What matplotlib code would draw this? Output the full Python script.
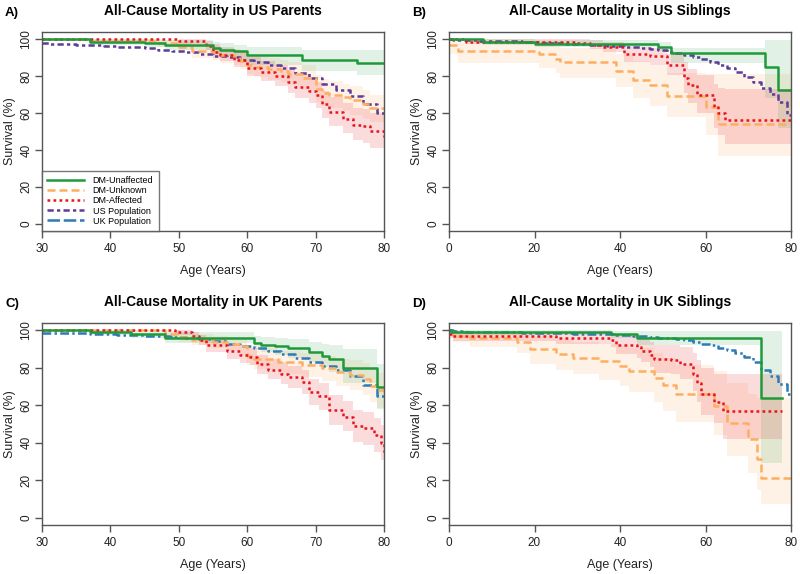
import matplotlib
matplotlib.use("Agg")
import matplotlib.pyplot as plt
from matplotlib.lines import Line2D

plt.rcParams['font.family'] = ['Liberation Sans', 'DejaVu Sans']

# ---------------- Panel A: US Parents ----------------
A_unaff_t = [30, 37, 45, 48, 55, 56, 58, 60, 68, 76, 80]
A_unaff_s = [100, 98.8, 98.3, 97.2, 95.5, 94.5, 93.5, 91.5, 89, 87.2, 87.2]
A_unaff_lo = [100, 97, 96, 94.5, 92, 91, 89.5, 86, 83, 80.5, 80.5]
A_unaff_hi = [100, 100, 100, 99.5, 98.5, 98, 97, 96, 94.5, 94, 94]

A_unk_t = [30, 37, 47, 50, 52, 55, 56, 58, 59, 60, 61, 63, 65, 66, 68, 70, 71, 72, 74, 75, 77, 78, 80]
A_unk_s = [100, 99, 98, 96, 93.5, 93, 91.5, 90.5, 88.5, 86, 85, 84, 83, 81, 79, 73, 71, 70, 68.5, 67, 65, 63, 62]
A_unk_lo = [99, 97.5, 96, 94, 90, 89, 87, 86, 84, 81, 79.5, 78, 77, 75, 72.5, 66, 64, 62.5, 61, 59, 57, 55, 55]
A_unk_hi = [100, 100, 99.5, 98.5, 97, 96.5, 95.5, 95, 93.5, 91.5, 90.5, 90, 89, 87.5, 86, 80.5, 78.5, 77.5, 76, 74.5, 72.5, 70, 69]

A_aff_t = [30, 50, 54, 55, 56, 58, 60, 62, 64, 66, 67, 69, 70, 71, 72, 74, 75.5, 77, 78, 80]
A_aff_s = [100, 99, 96.5, 93, 91.5, 89, 84.5, 82.5, 80, 77, 74, 72, 70, 64.7, 60.4, 57, 53.5, 53, 50.5, 47]
A_aff_lo = [100, 97.5, 94, 90, 88, 85, 80, 77.5, 74.5, 71, 68, 65.5, 63, 57.5, 53, 49, 45.5, 44, 41, 38]
A_aff_hi = [100, 100, 99, 97.5, 96, 94, 90.5, 88.5, 86, 83.5, 81, 79, 77, 72, 68.5, 65.5, 62.5, 62, 60, 57]

A_pop_t = [30, 32, 34, 36, 38, 40, 42, 44, 46, 48, 50, 52, 54, 56, 58, 60, 62, 64, 66, 68, 70, 72, 74, 76, 78, 80]
A_pop_s = [98.0, 97.7, 97.4, 97.1, 96.8, 96.4, 96.0, 95.6, 95.1, 94.5, 93.8, 93.0, 92.2, 91.2, 90.3, 89.0,
           87.6, 86.0, 84.2, 82.0, 79.3, 76.0, 72.5, 69.0, 65.0, 60.0]

# ---------------- Panel B: US Siblings ----------------
B_unaff_t = [0, 8, 20, 49, 52, 74, 77, 80]
B_unaff_s = [100, 98.7, 97.7, 96, 92.5, 85, 72.5, 72.5]
B_unaff_lo = [100, 97, 96, 93.5, 87, 68, 52, 52]
B_unaff_hi = [100, 100, 99.5, 98.5, 95.5, 99.5, 99.5, 99.5]

B_unk_t = [0, 2, 21, 25, 26, 39, 43, 47, 51, 60, 63, 80]
B_unk_s = [97, 93.5, 92, 89.5, 87.5, 83, 78, 75, 69.5, 63.5, 54, 54]
B_unk_lo = [92, 87, 84.5, 81.5, 79, 74, 68, 64, 58, 48, 36.5, 36.5]
B_unk_hi = [100, 98.5, 97.5, 96.5, 95.5, 92, 88, 86, 81.5, 81, 81, 81]

B_aff_t = [0, 4, 30, 33, 36, 41, 47, 51, 55, 56, 58, 62, 63, 64.5, 80]
B_aff_s = [100, 98.7, 98.3, 97, 95.8, 92, 91, 86, 79.3, 75, 69.7, 63.5, 60, 56, 56]
B_aff_lo = [100, 97.5, 96.5, 95, 93, 87.5, 86, 80.5, 71, 65.5, 60, 52, 48, 43, 43]
B_aff_hi = [100, 100, 100, 99.5, 98.5, 96, 95.5, 92, 87.5, 84, 80.5, 76, 73.5, 73, 73]

B_pop_t = [0, 2, 4, 6, 8, 10, 12, 14, 16, 18, 20, 22, 24, 26, 28, 30, 32, 34, 36, 38, 40,
           42, 44, 46, 48, 50, 52, 54, 56, 58, 60, 62, 64, 66, 68, 70, 72, 74, 76, 78, 80]
B_pop_s = [100, 99.7, 99.5, 99.4, 99.3, 99.2, 99.1, 99.0, 98.9, 98.7, 98.5, 98.3, 98.1, 97.9, 97.7,
           97.5, 97.3, 97.1, 96.9, 96.6, 96.3, 96.0, 95.6, 95.1, 94.6, 94.0, 93.3, 92.5, 91.5, 90.4,
           89.2, 87.8, 86.1, 84.3, 82.2, 79.8, 77.0, 73.8, 70.3, 66.0, 59.0]

# ---------------- Panel C: UK Parents ----------------
C_unaff_t = [30, 37, 43, 48, 61, 62, 64, 66, 69, 71, 72, 74, 79, 80]
C_unaff_s = [100, 99, 98, 96, 93.5, 92.5, 91.5, 90.5, 88.5, 86.5, 84.5, 80, 70, 70]
C_unaff_lo = [100, 97.5, 96, 93.5, 90, 88.5, 87, 85.5, 83, 80.5, 78, 72, 58, 58]
C_unaff_hi = [100, 100, 100, 99, 97, 96.5, 96, 95.5, 94, 93, 92, 90, 82, 82]

C_unk_t = [30, 48, 50, 52, 55, 57, 59, 60, 61, 64.5, 68, 71, 73, 75, 77, 78, 79, 80]
C_unk_s = [100, 98, 96.5, 95, 94, 93, 91.5, 86.5, 85, 83, 81.5, 80, 78, 76, 74, 70.5, 68, 66]
C_unk_lo = [99.5, 96, 94, 92, 90.5, 89, 87, 81.5, 79.5, 77, 75, 73, 70.5, 68, 65.5, 61.5, 58.5, 56]
C_unk_hi = [100, 100, 99, 98, 97, 96.5, 95.5, 91.5, 90.5, 89, 88, 86.5, 85, 84, 82.5, 80, 77.5, 76]

C_aff_t = [30, 49.5, 52, 53, 54, 57, 59, 60.4, 61.5, 63, 65, 66, 68, 69, 70.5, 72, 74, 75.5, 77, 78.5, 79.5, 80]
C_aff_s = [100, 99, 97, 95, 92, 89, 87, 86, 82, 79, 77, 75, 72.5, 67, 65, 57.5, 54, 49, 48, 44, 40, 35]
C_aff_lo = [100, 97.5, 94.5, 92, 88.5, 85, 82.5, 81.5, 77, 74, 71.5, 69, 66, 60, 57.5, 49.5, 46, 40.5, 39, 35, 31, 29]
C_aff_hi = [100, 100, 99, 97.5, 95.5, 93, 91.5, 90.5, 87, 84.5, 83, 81, 79, 74, 72, 65.5, 62.5, 57.5, 56.5, 53, 49.5, 45]

C_pop_t = [30, 32, 34, 36, 38, 40, 42, 44, 46, 48, 50, 52, 54, 56, 58, 60, 62, 64, 66, 68, 70, 72, 74, 76, 78, 80]
C_pop_s = [98.8, 98.7, 98.6, 98.4, 98.2, 98.0, 97.7, 97.4, 97.1, 96.8, 96.4, 95.9, 95.2, 94.3, 93.0, 91.8,
           90.4, 88.8, 87.2, 85.3, 83.2, 81.0, 78.8, 75.5, 71.0, 65.0]

# ---------------- Panel D: UK Siblings ----------------
D_unaff_t = [0, 0.5, 38, 44, 73, 78]
D_unaff_s = [100, 99, 98, 96, 64, 64]
D_unaff_lo = [100, 97.5, 96, 92, 29, 29]
D_unaff_hi = [100, 100, 99.5, 99.5, 99.5, 99.5]

D_unk_t = [0, 1, 5, 16, 19, 25, 29, 35, 40, 42, 48, 50, 53, 62, 65, 70, 72, 73, 80]
D_unk_s = [99, 97, 96, 94, 90, 87.5, 85.5, 83.5, 81, 78.5, 74.5, 71, 65.8, 59.5, 50.5, 42, 31.5, 21.3, 21.3]
D_unk_lo = [97, 94, 91, 88, 82, 79, 76.5, 73.5, 70.5, 67, 62, 57, 51, 44, 33, 24, 14.5, 7, 7]
D_unk_hi = [100, 100, 99.5, 99, 97, 95.5, 94, 93, 92, 90.5, 88, 85.5, 81.5, 78.5, 72, 66, 64, 64, 64]

D_aff_t = [0, 1, 25, 38, 39, 44, 45, 47, 48, 52, 54, 57, 58, 59, 62, 64, 78]
D_aff_s = [98, 97, 96, 95, 92.5, 91, 89, 87, 84.7, 84, 82.3, 77, 72, 66, 62, 56.8, 56.8]
D_aff_lo = [96, 94.5, 93, 91, 87.5, 85.5, 83, 80.5, 77.5, 76.5, 74, 67.5, 61.5, 55, 50.5, 42, 42]
D_aff_hi = [99.5, 99, 98.5, 98.5, 97, 96, 95, 94, 92.5, 92, 91, 88, 84, 80, 77, 77, 77]

D_pop_t = [0, 2, 4, 6, 8, 10, 12, 14, 16, 18, 20, 22, 24, 26, 28, 30, 32, 34, 36, 38, 40,
           42, 44, 46, 48, 50, 52, 54, 56, 58, 60, 62, 64, 66, 68, 70, 72, 74, 76, 78, 80]
D_pop_s = [100, 99.5, 99.4, 99.3, 99.3, 99.2, 99.2, 99.1, 99.0, 98.9, 98.8, 98.7, 98.6, 98.5, 98.4,
           98.3, 98.2, 98.1, 98.0, 97.9, 97.7, 97.5, 97.2, 96.9, 96.6, 96.2, 95.8, 95.3, 94.7, 93.9,
           93.0, 92.0, 90.8, 89.4, 87.8, 85.8, 83.0, 79.0, 75.5, 71.5, 66.0]

series_labels = ["DM-Unaffected", "DM-Unknown", "DM-Affected", "US Population", "UK Population"]
panel_titles = ["All-Cause Mortality in US Parents", "All-Cause Mortality in US Siblings",
                "All-Cause Mortality in UK Parents", "All-Cause Mortality in UK Siblings"]
panel_letters = ["A)", "B)", "C)", "D)"]

# styles
C_GREEN = "#1f9a3a"
C_ORANGE = "#fdae61"
C_RED = "#e8141c"
C_PURPLE = "#5e3c99"
C_BLUE = "#2c7bb6"
LW = 1.8
LS_UNAFF = "-"
LS_UNK = (0, (3.2, 1.6))
LS_AFF = (0, (1.1, 1.3))
LS_US = (0, (2.5, 1.3, 1.3, 1.3))
LS_UK = (0, (3.5, 1.3, 1.0, 1.3))

fig = plt.figure(figsize=(8.0, 5.74), dpi=100)
W, H = 800, 574
positions = [(42, 32, 384, 231), (449, 32, 791, 231), (42, 323, 384, 525), (449, 323, 791, 525)]
axes = []
for (l, t, r, b) in positions:
    ax = fig.add_axes([l / W, 1 - b / H, (r - l) / W, (b - t) / H])
    axes.append(ax)

panels = [
    (A_unaff_t, A_unaff_s, A_unaff_lo, A_unaff_hi, A_unk_t, A_unk_s, A_unk_lo, A_unk_hi,
     A_aff_t, A_aff_s, A_aff_lo, A_aff_hi, A_pop_t, A_pop_s, "US", (30, 80), [30, 40, 50, 60, 70, 80]),
    (B_unaff_t, B_unaff_s, B_unaff_lo, B_unaff_hi, B_unk_t, B_unk_s, B_unk_lo, B_unk_hi,
     B_aff_t, B_aff_s, B_aff_lo, B_aff_hi, B_pop_t, B_pop_s, "US", (0, 80), [0, 20, 40, 60, 80]),
    (C_unaff_t, C_unaff_s, C_unaff_lo, C_unaff_hi, C_unk_t, C_unk_s, C_unk_lo, C_unk_hi,
     C_aff_t, C_aff_s, C_aff_lo, C_aff_hi, C_pop_t, C_pop_s, "UK", (30, 80), [30, 40, 50, 60, 70, 80]),
    (D_unaff_t, D_unaff_s, D_unaff_lo, D_unaff_hi, D_unk_t, D_unk_s, D_unk_lo, D_unk_hi,
     D_aff_t, D_aff_s, D_aff_lo, D_aff_hi, D_pop_t, D_pop_s, "UK", (0, 80), [0, 20, 40, 60, 80]),
]

for i, (ax, p) in enumerate(zip(axes, panels)):
    (ut, us, ulo, uhi, kt, ks, klo, khi, at, as_, alo, ahi, pt, ps, pop, xlim, xt) = p
    # bands
    ax.fill_between(kt, klo, khi, step="post", color=C_ORANGE, alpha=0.15, lw=0)
    ax.fill_between(at, alo, ahi, step="post", color=C_RED, alpha=0.15, lw=0)
    ax.fill_between(ut, ulo, uhi, step="post", color=C_GREEN, alpha=0.13, lw=0)
    # population
    if pop == "US":
        ax.step(pt, ps, where="mid", color=C_PURPLE, lw=LW, ls=LS_US)
    else:
        ax.step(pt, ps, where="mid", color=C_BLUE, lw=LW, ls=LS_UK)
    ax.step(kt, ks, where="post", color=C_ORANGE, lw=LW, ls=LS_UNK)
    ax.step(at, as_, where="post", color=C_RED, lw=LW, ls=LS_AFF)
    ax.step(ut, us, where="post", color=C_GREEN, lw=LW, ls=LS_UNAFF)

    ax.set_xlim(*xlim)
    ax.set_ylim(-4, 104)
    ax.set_xticks(xt)
    ax.set_yticks([0, 20, 40, 60, 80, 100])
    for s in ax.spines.values():
        s.set_color("#555555")
        s.set_linewidth(1.0)
    ax.tick_params(axis="both", colors="#555555", labelcolor="#222222", length=5, width=1.0, labelsize=8.5)
    ax.tick_params(axis="y", pad=2)
    for lab in ax.get_yticklabels():
        lab.set_rotation(90)
        lab.set_va("center")
    ax.set_xlabel("Age (Years)", fontsize=9, color="#222222", labelpad=7)
    ax.set_ylabel("Survival (%)", fontsize=9, color="#222222", labelpad=3)
    ax.set_title(panel_titles[i], fontsize=9.9, fontweight="bold", pad=12)
    bb = positions[i]
    fig.text((bb[0] - 37) / W, 1 - (bb[1] - 19) / H, panel_letters[i], fontsize=9.5,
             fontweight="bold", ha="left", va="center")

handles = [
    Line2D([], [], color=C_GREEN, lw=LW, ls=LS_UNAFF),
    Line2D([], [], color=C_ORANGE, lw=LW, ls=LS_UNK),
    Line2D([], [], color=C_RED, lw=LW, ls=LS_AFF),
    Line2D([], [], color=C_PURPLE, lw=LW, ls=LS_US),
    Line2D([], [], color=C_BLUE, lw=LW, ls=(0, (5, 1.5))),
]
leg = axes[0].legend(handles, series_labels, loc="lower left", bbox_to_anchor=(0, 0), fontsize=6.5,
                     frameon=True, fancybox=False, borderaxespad=0, handlelength=4.0,
                     labelspacing=0.12, borderpad=0.6, handletextpad=1.0)
leg.get_frame().set_edgecolor("#555555")
leg.get_frame().set_linewidth(1.0)

fig.savefig("out.png", dpi=100)
